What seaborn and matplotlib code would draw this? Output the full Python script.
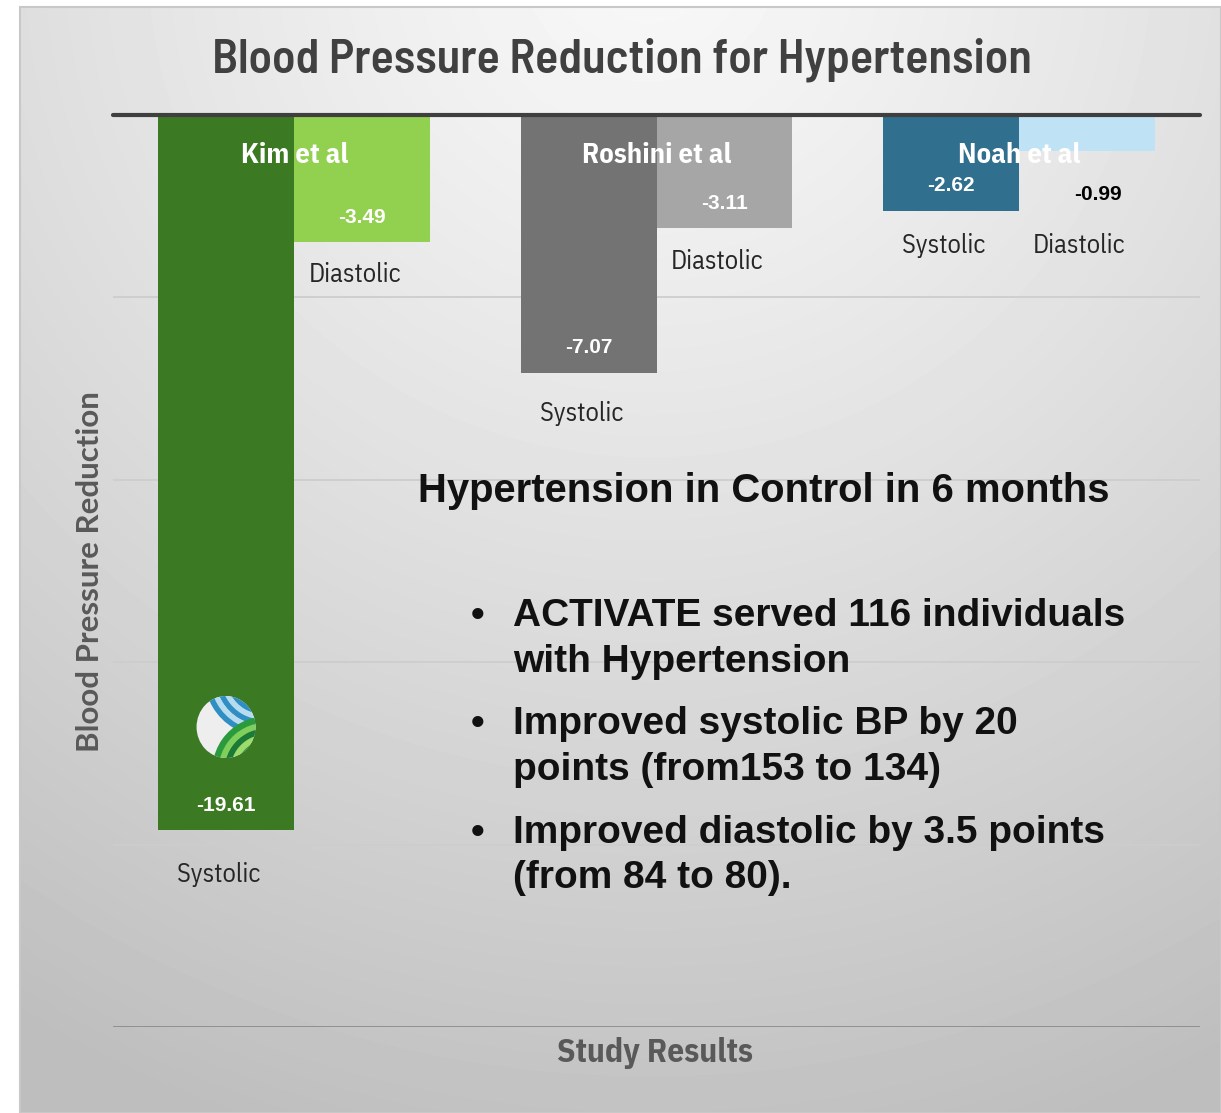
import numpy as np
import pandas as pd
import matplotlib
matplotlib.use("Agg")
import matplotlib.pyplot as plt
import matplotlib.patches as mpatches
import seaborn as sns

# ---------------- data ----------------
studies = ["Kim et al", "Roshini et al", "Noah et al"]
measures = ["Systolic", "Diastolic"]
systolic = [-19.61, -7.07, -2.62]
diastolic = [-3.49, -3.11, -0.99]
bar_colors = ["#3b7a23", "#92d050", "#737373", "#a6a6a6", "#316f8f", "#bfe3f5"]
value_colors = ["white", "white", "white", "white", "white", "black"]

title = "Blood Pressure Reduction for Hypertension"
ylabel = "Blood Pressure Reduction"
xlabel = "Study Results"
note_title = "Hypertension in Control in 6 months"
bullets = [["ACTIVATE served 116 individuals", "with Hypertension"],
           ["Improved systolic BP by 20", "points (from153 to 134)"],
           ["Improved diastolic by 3.5 points", "(from 84 to 80)."]]

df = pd.DataFrame({
    "study": np.repeat(studies, 2),
    "measure": measures * 3,
    "value": [v for pair in zip(systolic, diastolic) for v in pair],
})

sns.set_theme(style="white")
plt.rcParams['font.family'] = ['DejaVu Sans']
TITLEF = ['Barlow Semi Condensed', 'DejaVu Sans']
PLEX = ['IBM Plex Sans Condensed', 'DejaVu Sans']
YLF = ['Lato', 'DejaVu Sans']
ARIAL = ['Liberation Sans', 'DejaVu Sans']

W, H = 1221, 1113
fig = plt.figure(figsize=(W / 100, H / 100), dpi=100)
fig.patch.set_facecolor("white")

# background gradient panel
bg = fig.add_axes([0, 0, 1, 1], zorder=-10)
bg.set_xlim(0, W); bg.set_ylim(H, 0); bg.axis("off")
yy, xx = np.mgrid[0:H:4, 0:W:4]
d = np.sqrt(((xx - 640) / 1.0) ** 2 + ((yy + 60) / 1.0) ** 2)
g = 248 - 58 * np.clip(d / 1250, 0, 1) ** 1.2
bg.imshow(g, cmap="gray", vmin=0, vmax=255, extent=[20, W, H, 7],
          aspect="auto", interpolation="bilinear")
bg.add_patch(mpatches.Rectangle((20, 7), W - 20, H - 7, fill=False,
                                edgecolor="#c8c8c8", lw=1.5))

# main axes
left, right = 113 / W, 1200 / W
top, bottom = 1 - 115 / H, 1 - 1027 / H
ax = fig.add_axes([left, bottom, right - left, top - bottom])
ax.set_facecolor("none")

sns.barplot(data=df, x="study", y="value", hue="measure", order=studies,
            hue_order=measures, width=0.75, ax=ax, legend=False,
            saturation=1, zorder=3, linewidth=0)

patches = [p for p in ax.patches if p.get_height() != 0]
ordered = {}
for p in patches:
    ordered[round(p.get_x() + p.get_width() / 2, 3)] = p
bars = [ordered[k] for k in sorted(ordered)]
for p, c in zip(bars, bar_colors):
    p.set_facecolor(c)
    p.set_edgecolor("none")

ax.set_xlim(-0.5, 2.5)
ax.set_ylim(-25, 0)
ax.set_yticks([0, -5, -10, -15, -20, -25])
ax.set_yticklabels([])
ax.set_xticks([])
ax.tick_params(length=0)
ax.set_xlabel(""); ax.set_ylabel("")
for s in ax.spines.values():
    s.set_visible(False)
for yv in [-5, -10, -15, -20]:
    ax.axhline(yv, color="#cdcdcd", lw=1.3, zorder=1)
ax.axhline(-25, color="#8c8c8c", lw=2, zorder=2)
ax.axhline(0, color="#3f3f3f", lw=3, zorder=5, clip_on=False)

# value labels and measure labels
vals = df["value"].tolist()
for i, (p, v) in enumerate(zip(bars, vals)):
    cx = p.get_x() + p.get_width() / 2
    if value_colors[i] == "white":
        ax.annotate(f"{v:.2f}", (cx, v), xytext=(0, 18), textcoords="offset points",
                    ha="center", va="center", color="white", fontsize=15,
                    fontweight="bold", family=ARIAL, zorder=6)
    else:
        ax.annotate(f"{v:.2f}", (cx + 0.03, v), xytext=(0, -31), textcoords="offset points",
                    ha="center", va="center", color="black", fontsize=15,
                    fontweight="bold", family=ARIAL, zorder=6)

label_offsets = [-32, -23, -29, -24, -25, -25]
for i, (p, v) in enumerate(zip(bars, vals)):
    cx = p.get_x() + p.get_width() / 2
    yref = v if i != 5 else vals[4]
    ax.annotate(df["measure"][i], (cx - 0.02, yref), xytext=(0, label_offsets[i]),
                textcoords="offset points", ha="center", va="center",
                color="#262626", fontsize=19, family=PLEX, zorder=6)

# study names
for j, s in enumerate(studies):
    ax.annotate(s, (j, 0), xytext=(0, -29), textcoords="offset points",
                ha="center", va="center", color="white", fontsize=20.5,
                fontweight="bold", family=PLEX, zorder=4)

# logo on Kim systolic bar
lx, ly, r = 226, 727, 31
lax = fig.add_axes([(lx - r) / W, 1 - (ly + r) / H, 2 * r / W, 2 * r / H], zorder=8)
lax.set_xlim(-1, 1); lax.set_ylim(-1, 1); lax.axis("off")
circ = mpatches.Ellipse((0, 0), 1.9, 2.0, facecolor="#eeeeee", edgecolor="none")
lax.add_patch(circ)
for k, c in enumerate(["#2f8fc4", "#b8dcef", "#2f8fc4", "#b8dcef", "#2f8fc4"]):
    a = mpatches.Arc((1.2, 1.6), 2.2 + 0.35 * k, 2.2 + 0.35 * k, theta1=180, theta2=300,
                     color=c, lw=4)
    a.set_clip_path(circ)
    lax.add_patch(a)
for k, c in enumerate(["#1b7a36", "#7fcf5a", "#2a9a3c", "#9ddc6a", "#1b7a36", "#7fcf5a", "#2a9a3c"]):
    a = mpatches.Arc((1.3, -1.4), 1.0 + 0.38 * k, 1.0 + 0.38 * k, theta1=90, theta2=200,
                     color=c, lw=4.5)
    a.set_clip_path(circ)
    lax.add_patch(a)

# titles
fig.text(622 / W, 1 - 60 / H, title, ha="center", va="center", fontsize=34.5,
         fontweight="semibold", color="#404040", family=TITLEF)
fig.text(90 / W, 1 - 572 / H, ylabel, ha="center", va="center", rotation=90,
         fontsize=22.5, fontweight="bold", color="#595959", family=YLF)
fig.text(655 / W, 1 - 1053 / H, xlabel, ha="center", va="center", fontsize=24,
         fontweight="bold", color="#595959", family=PLEX)

# note text
fig.text(764 / W, 1 - 502 / H, note_title, ha="center", va="baseline", fontsize=28.8,
         fontweight="bold", color="#111111", family=ARIAL)
bullet_base = [[626, 672], [734, 780], [843, 888]]
for ys, lines in zip(bullet_base, bullets):
    fig.text(478 / W, 1 - ys[0] / H, "\u2022", ha="center", va="baseline", fontsize=28,
             fontweight="bold", color="#111111", family=ARIAL)
    for yv, line in zip(ys, lines):
        fig.text(513 / W, 1 - yv / H, line, ha="left", va="baseline", fontsize=28,
                 fontweight="bold", color="#111111", family=ARIAL)

fig.savefig("out.png", dpi=100)
